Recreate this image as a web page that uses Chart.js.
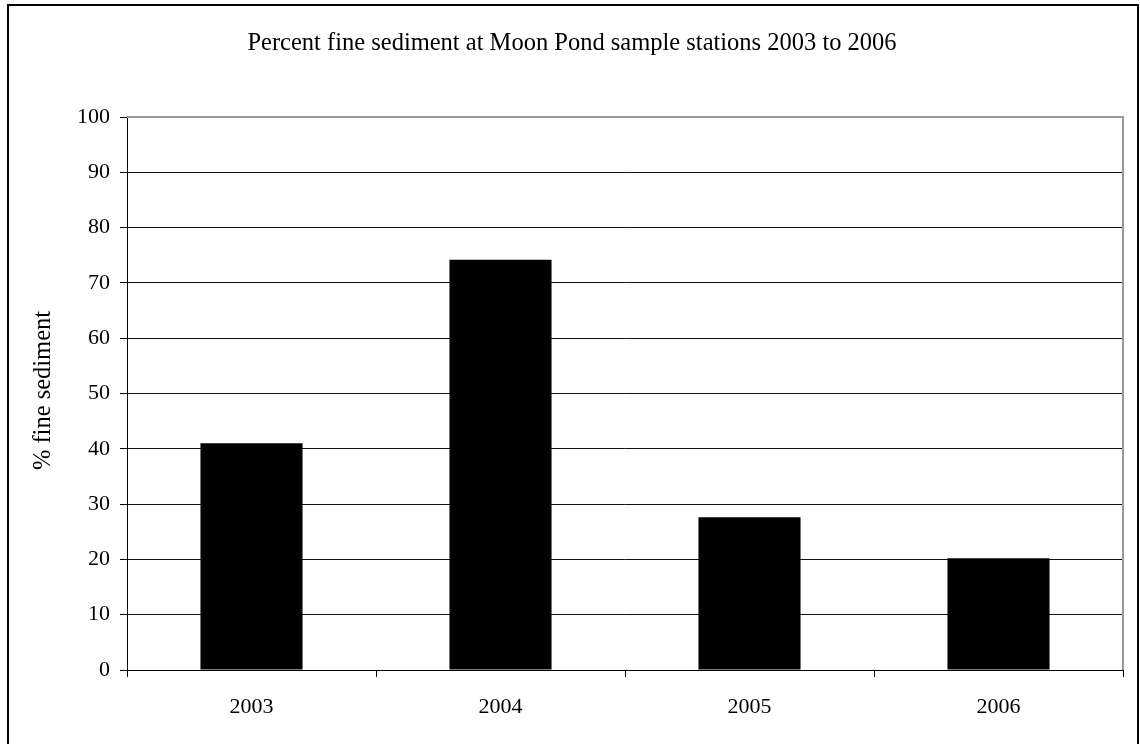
<!DOCTYPE html>
<html>
<head>
<meta charset="utf-8">
<script src="https://cdn.jsdelivr.net/npm/chart.js@4/dist/chart.umd.min.js"></script>
<style>
  html, body { margin: 0; padding: 0; background: #fff; }
  #wrap { width: 1140px; height: 744px; position: relative; }
</style>
</head>
<body>
<div id="wrap"><canvas id="c" width="1140" height="744"></canvas></div>
<script>
// Sampling years and the percent fine sediment measured in each
const years = ['2003', '2004', '2005', '2006'];
const fineSediment = [41, 74.2, 27.6, 20.2];
const yTicks = [0, 10, 20, 30, 40, 50, 60, 70, 80, 90, 100];

const chartTitle = 'Percent fine sediment at Moon Pond sample stations 2003 to 2006';
const yTitle = '% fine sediment';
const FONT = '"Liberation Serif", "Times New Roman", serif';

// Frame, heading, vertical axis caption and the gray plot outline
const decorations = {
  id: 'decorations',
  beforeDraw(chart) {
    const ctx = chart.ctx;
    ctx.save();
    ctx.fillStyle = '#fff';
    ctx.fillRect(0, 0, chart.width, chart.height);
    ctx.restore();
  },
  afterDatasetsDraw(chart) {
    const ctx = chart.ctx;
    const a = chart.chartArea;
    ctx.save();
    // gray outline on the top and right of the plot
    ctx.strokeStyle = '#999';
    ctx.lineWidth = 2;
    ctx.beginPath();
    ctx.moveTo(a.left, a.top);
    ctx.lineTo(a.right, a.top);
    ctx.lineTo(a.right, a.bottom);
    ctx.stroke();
    ctx.restore();
  },
  afterDraw(chart) {
    const ctx = chart.ctx;
    const a = chart.chartArea;
    ctx.save();
    ctx.strokeStyle = '#000';
    ctx.lineWidth = 2;
    ctx.strokeRect(8, 5, 1130, 745);

    ctx.fillStyle = '#000';
    ctx.font = '24.5px ' + FONT;
    ctx.textAlign = 'center';
    ctx.textBaseline = 'middle';
    ctx.fillText(chartTitle, 572, 44);

    ctx.translate(44, (a.top + a.bottom) / 2 - 3);
    ctx.rotate(-Math.PI / 2);
    ctx.fillText(yTitle, 0, 0);
    ctx.restore();
  }
};

new Chart(document.getElementById('c'), {
  type: 'bar',
  data: {
    labels: years,
    datasets: [{
      data: fineSediment,
      backgroundColor: '#000',
      borderColor: '#000',
      borderWidth: 0,
      categoryPercentage: 1,
      barPercentage: 0.41
    }]
  },
  options: {
    responsive: false,
    animation: false,
    devicePixelRatio: 1,
    layout: { padding: { top: 117, left: 0, right: 17, bottom: 0 } },
    plugins: {
      legend: { display: false },
      title: { display: false },
      tooltip: { enabled: false }
    },
    scales: {
      x: {
        offset: true,
        grid: {
          offset: true,
          drawOnChartArea: false,
          drawTicks: true,
          tickLength: 7,
          tickColor: '#000',
          tickWidth: 1
        },
        border: { color: '#000', width: 1 },
        ticks: {
          color: '#000',
          font: { family: FONT, size: 22 },
          padding: 17,
          maxRotation: 0
        },
        afterFit(s) { s.height = 744 - 670; }
      },
      y: {
        min: 0,
        max: 100,
        afterBuildTicks(s) { s.ticks = yTicks.map(v => ({ value: v })); },
        grid: {
          color: c => (c.tick && c.tick.value === 100) ? 'rgba(0,0,0,0)' : '#111',
          lineWidth: 1,
          drawTicks: true,
          tickLength: 7,
          tickColor: '#000',
          tickWidth: 1
        },
        border: { color: '#000', width: 1 },
        ticks: {
          color: '#000',
          font: { family: FONT, size: 22 },
          padding: 10
        },
        afterFit(s) { s.width = 127; }
      }
    }
  },
  plugins: [decorations]
});
</script>
</body>
</html>
